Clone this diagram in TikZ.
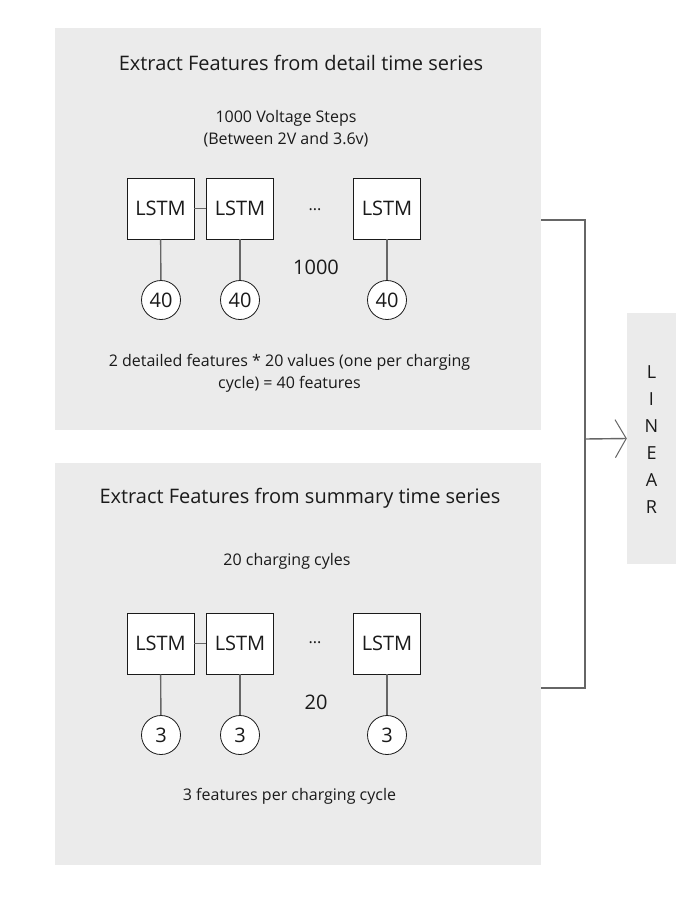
\documentclass[tikz,border=0pt]{standalone}
\usepackage{fontspec}
\setmainfont{Open Sans}
\usetikzlibrary{arrows.meta}
\definecolor{panel}{HTML}{EBEBEB}
\definecolor{ln}{HTML}{666666}
\definecolor{txt}{HTML}{1A1A1A}
\tikzset{
  panelbox/.style={fill=panel,draw=none},
  lstm/.style={draw=txt,fill=white,line width=0.8pt,minimum width=67pt,minimum height=61pt,inner sep=0pt,font=\fontsize{20}{22}\selectfont,text=txt},
  outc/.style={circle,draw=txt,fill=white,line width=0.8pt,minimum size=39pt,inner sep=0pt,font=\fontsize{20}{22}\selectfont,text=txt},
  conn/.style={draw=ln,line width=1.4pt},
  ttl/.style={font=\fontsize{20}{24}\selectfont,text=txt},
  body/.style={font=\fontsize{16}{22}\selectfont,text=txt},
}
\begin{document}
\begin{tikzpicture}[x=1pt,y=-1pt]
\useasboundingbox (0,0) rectangle (700,900);
\fill[white] (0,0) rectangle (700,900);
% panels
\path[panelbox] (55,28) rectangle (541,430);
\coordinate (topR) at (541,220);
\path[panelbox] (55,463) rectangle (541,865);
\coordinate (botR) at (541,688);
\node[fill=panel,minimum width=49pt,minimum height=251pt,inner sep=0pt] (lin) at (651.5,438.5) {};
\node[font=\fontsize{18}{27}\selectfont,text=txt,align=center] (lintxt) at (651.5,440) {L\\I\\N\\E\\A\\R};
% top panel
\node[ttl] (t1) at (301,63) {Extract Features from detail time series};
\node[body,align=center] (t1b) at (286,129) {1000 Voltage Steps\\(Between 2V and 3.6v)};
\node[lstm] (a1) at (160.5,208.5) {LSTM};
\node[lstm] (a2) at (240,208.5) {LSTM};
\node[lstm] (a3) at (387,208.5) {LSTM};
\node[outc] (c1) at (161,300) {40};
\node[outc] (c2) at (240,300) {40};
\node[outc] (c3) at (387,300) {40};
\node[body] (d1) at (315,210) {...};
\node[body,font=\fontsize{20}{22}\selectfont] (n1) at (316,267) {1000};
\draw[conn] (a1) -- (a2);
\draw[conn] (a1) -- (c1);
\draw[conn] (a2) -- (c2);
\draw[conn] (a3) -- (c3);
\node[body,align=center] (t1c) at (289.5,373) {2 detailed features * 20 values (one per charging\\cycle) = 40 features};
% bottom panel
\node[ttl] (t2) at (300,498) {Extract Features from summary time series};
\node[body] (t2b) at (287,561) {20 charging cyles};
\node[lstm] (b1) at (160.5,643.5) {LSTM};
\node[lstm] (b2) at (240,643.5) {LSTM};
\node[lstm] (b3) at (387,643.5) {LSTM};
\node[outc] (e1) at (161,735) {3};
\node[outc] (e2) at (240,735) {3};
\node[outc] (e3) at (387,735) {3};
\node[body] (d2) at (315,643) {...};
\node[body,font=\fontsize{20}{22}\selectfont] (n2) at (316,702) {20};
\draw[conn] (b1) -- (b2);
\draw[conn] (b1) -- (e1);
\draw[conn] (b2) -- (e2);
\draw[conn] (b3) -- (e3);
\node[body] (t2c) at (289.5,796) {3 features per charging cycle};
% connectors
\coordinate (j) at (585,439);
\draw[conn] (topR) -| (j) |- (botR);
\draw[conn,-{Straight Barb[length=11pt,width=38pt,line width=1pt]}] (j) -- (lin.west);
\end{tikzpicture}
\end{document}
